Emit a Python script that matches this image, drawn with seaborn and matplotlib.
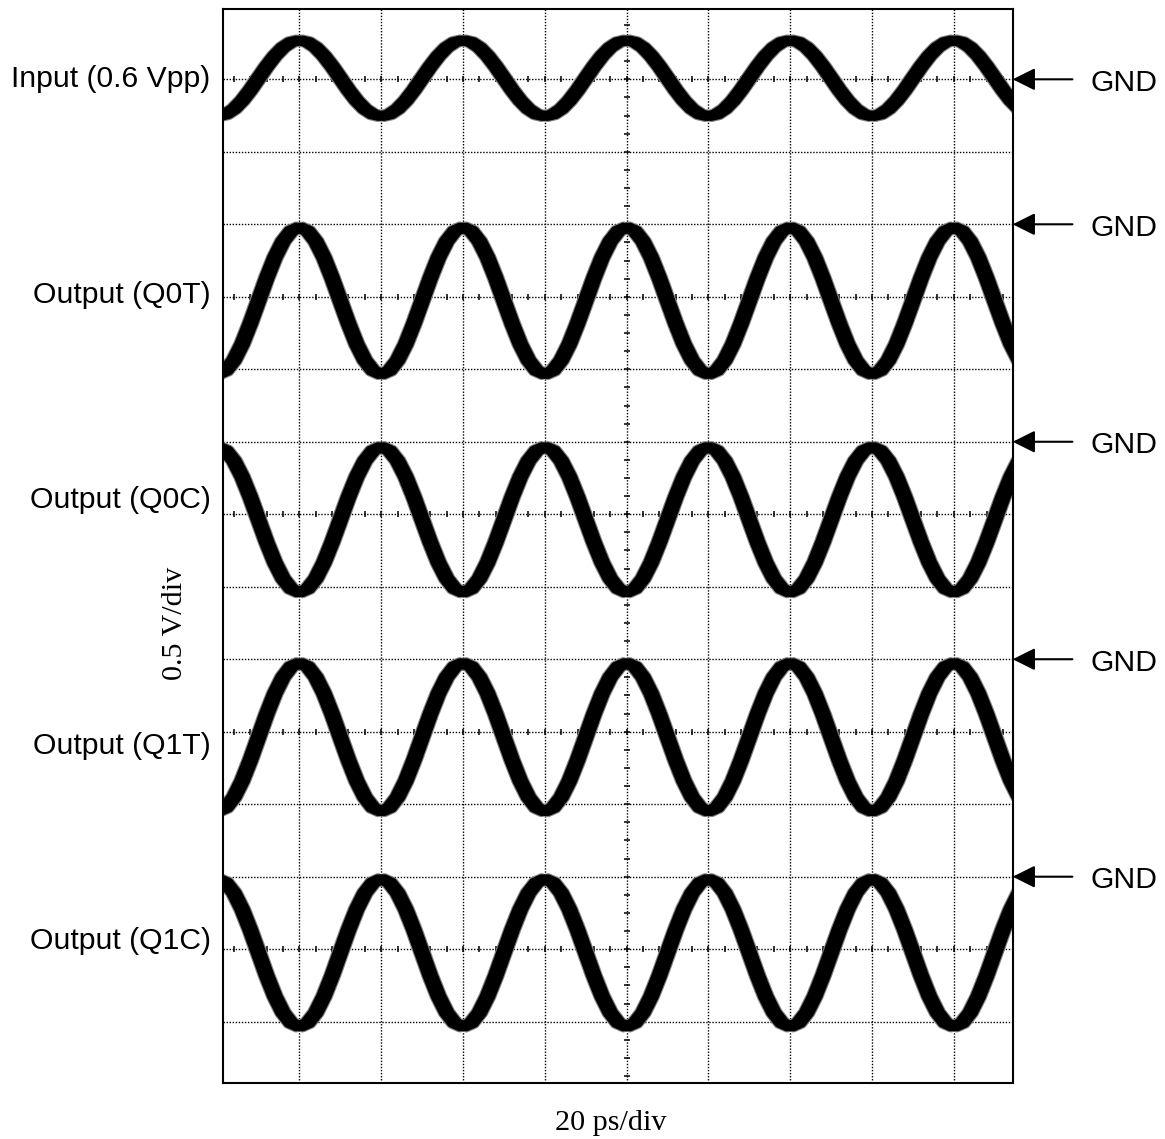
import numpy as np
import seaborn as sns
import matplotlib.pyplot as plt
import matplotlib.patheffects as pe
import matplotlib.transforms as mtransforms

plt.switch_backend('agg')

# sample times (20 ps/div), one reading every 2 ps
time_ps = [-100, -98, -96, -94, -92, -90, -88, -86, -84, -82,
           -80, -78, -76, -74, -72, -70, -68, -66, -64, -62,
           -60, -58, -56, -54, -52, -50, -48, -46, -44, -42,
           -40, -38, -36, -34, -32, -30, -28, -26, -24, -22,
           -20, -18, -16, -14, -12, -10, -8, -6, -4, -2,
           0, 2, 4, 6, 8, 10, 12, 14, 16, 18,
           20, 22, 24, 26, 28, 30, 32, 34, 36, 38,
           40, 42, 44, 46, 48, 50, 52, 54, 56, 58,
           60, 62, 64, 66, 68, 70, 72, 74, 76, 78,
           80, 82, 84, 86, 88, 90, 92, 94, 96, 98]

# trace levels in volts, relative to each trace's GND marker
input_v = [-0.255, -0.242, -0.205, -0.147, -0.074, 0.008, 0.089, 0.162, 0.22, 0.257, 0.27, 0.257, 0.22, 0.162, 0.089, 0.008, -0.074, -0.147, -0.205, -0.242,
           -0.255, -0.242, -0.205, -0.147, -0.074, 0.008, 0.089, 0.162, 0.22, 0.257, 0.27, 0.257, 0.22, 0.162, 0.089, 0.008, -0.074, -0.147, -0.205, -0.242,
           -0.255, -0.242, -0.205, -0.147, -0.074, 0.008, 0.089, 0.162, 0.22, 0.257, 0.27, 0.257, 0.22, 0.162, 0.089, 0.008, -0.074, -0.147, -0.205, -0.242,
           -0.255, -0.242, -0.205, -0.147, -0.074, 0.008, 0.089, 0.162, 0.22, 0.257, 0.27, 0.257, 0.22, 0.162, 0.089, 0.008, -0.074, -0.147, -0.205, -0.242,
           -0.255, -0.242, -0.205, -0.147, -0.074, 0.008, 0.089, 0.162, 0.22, 0.257, 0.27, 0.257, 0.22, 0.162, 0.089, 0.008, -0.074, -0.147, -0.205, -0.242]
q0t_v = [-1.035, -1.01, -0.938, -0.826, -0.684, -0.528, -0.371, -0.229, -0.117, -0.045, -0.02, -0.045, -0.117, -0.229, -0.371, -0.528, -0.684, -0.826, -0.938, -1.01,
         -1.035, -1.01, -0.938, -0.826, -0.684, -0.528, -0.371, -0.229, -0.117, -0.045, -0.02, -0.045, -0.117, -0.229, -0.371, -0.528, -0.684, -0.826, -0.938, -1.01,
         -1.035, -1.01, -0.938, -0.826, -0.684, -0.528, -0.371, -0.229, -0.117, -0.045, -0.02, -0.045, -0.117, -0.229, -0.371, -0.528, -0.684, -0.826, -0.938, -1.01,
         -1.035, -1.01, -0.938, -0.826, -0.684, -0.528, -0.371, -0.229, -0.117, -0.045, -0.02, -0.045, -0.117, -0.229, -0.371, -0.528, -0.684, -0.826, -0.938, -1.01,
         -1.035, -1.01, -0.938, -0.826, -0.684, -0.528, -0.371, -0.229, -0.117, -0.045, -0.02, -0.045, -0.117, -0.229, -0.371, -0.528, -0.684, -0.826, -0.938, -1.01]
q0c_v = [-0.035, -0.06, -0.131, -0.242, -0.382, -0.538, -0.693, -0.833, -0.944, -1.015, -1.04, -1.015, -0.944, -0.833, -0.693, -0.538, -0.382, -0.242, -0.131, -0.06,
         -0.035, -0.06, -0.131, -0.242, -0.382, -0.538, -0.693, -0.833, -0.944, -1.015, -1.04, -1.015, -0.944, -0.833, -0.693, -0.538, -0.382, -0.242, -0.131, -0.06,
         -0.035, -0.06, -0.131, -0.242, -0.382, -0.538, -0.693, -0.833, -0.944, -1.015, -1.04, -1.015, -0.944, -0.833, -0.693, -0.538, -0.382, -0.242, -0.131, -0.06,
         -0.035, -0.06, -0.131, -0.242, -0.382, -0.538, -0.693, -0.833, -0.944, -1.015, -1.04, -1.015, -0.944, -0.833, -0.693, -0.538, -0.382, -0.242, -0.131, -0.06,
         -0.035, -0.06, -0.131, -0.242, -0.382, -0.538, -0.693, -0.833, -0.944, -1.015, -1.04, -1.015, -0.944, -0.833, -0.693, -0.538, -0.382, -0.242, -0.131, -0.06]
q1t_v = [-1.05, -1.025, -0.952, -0.839, -0.696, -0.538, -0.379, -0.236, -0.123, -0.05, -0.025, -0.05, -0.123, -0.236, -0.379, -0.538, -0.696, -0.839, -0.952, -1.025,
         -1.05, -1.025, -0.952, -0.839, -0.696, -0.538, -0.379, -0.236, -0.123, -0.05, -0.025, -0.05, -0.123, -0.236, -0.379, -0.538, -0.696, -0.839, -0.952, -1.025,
         -1.05, -1.025, -0.952, -0.839, -0.696, -0.538, -0.379, -0.236, -0.123, -0.05, -0.025, -0.05, -0.123, -0.236, -0.379, -0.538, -0.696, -0.839, -0.952, -1.025,
         -1.05, -1.025, -0.952, -0.839, -0.696, -0.538, -0.379, -0.236, -0.123, -0.05, -0.025, -0.05, -0.123, -0.236, -0.379, -0.538, -0.696, -0.839, -0.952, -1.025,
         -1.05, -1.025, -0.952, -0.839, -0.696, -0.538, -0.379, -0.236, -0.123, -0.05, -0.025, -0.05, -0.123, -0.236, -0.379, -0.538, -0.696, -0.839, -0.952, -1.025]
q1c_v = [-0.015, -0.04, -0.112, -0.225, -0.367, -0.525, -0.683, -0.825, -0.938, -1.01, -1.035, -1.01, -0.938, -0.825, -0.683, -0.525, -0.367, -0.225, -0.112, -0.04,
         -0.015, -0.04, -0.112, -0.225, -0.367, -0.525, -0.683, -0.825, -0.938, -1.01, -1.035, -1.01, -0.938, -0.825, -0.683, -0.525, -0.367, -0.225, -0.112, -0.04,
         -0.015, -0.04, -0.112, -0.225, -0.367, -0.525, -0.683, -0.825, -0.938, -1.01, -1.035, -1.01, -0.938, -0.825, -0.683, -0.525, -0.367, -0.225, -0.112, -0.04,
         -0.015, -0.04, -0.112, -0.225, -0.367, -0.525, -0.683, -0.825, -0.938, -1.01, -1.035, -1.01, -0.938, -0.825, -0.683, -0.525, -0.367, -0.225, -0.112, -0.04,
         -0.015, -0.04, -0.112, -0.225, -0.367, -0.525, -0.683, -0.825, -0.938, -1.01, -1.035, -1.01, -0.938, -0.825, -0.683, -0.525, -0.367, -0.225, -0.112, -0.04]

trace_labels = ["Input (0.6 Vpp)", "Output (Q0T)", "Output (Q0C)",
                "Output (Q1T)", "Output (Q1C)"]
traces = [input_v, q0t_v, q0c_v, q1t_v, q1c_v]

# screen layout: GND marker of each trace, in divisions from the top edge
gnd_div = [-1, -3, -6, -9, -12]
volts_per_div = 0.5
ps_per_div = 20

sns.set_style("white")
plt.rcParams['font.family'] = ['Liberation Sans', 'DejaVu Sans']
plt.rcParams['text.color'] = 'black'
SERIF = ['Liberation Serif', 'DejaVu Serif']
FS = 21.7

fig = plt.figure(figsize=(11.65, 11.39), dpi=100)
ax = fig.add_axes([0.19099, 0.0489, 0.67828, 0.9432])

# graticule
ax.set_xlim(-98.8, 94.4)
ax.set_ylim(-14.85, -0.03)
ax.set_xticks(np.arange(-4, 5) * ps_per_div)
ax.set_yticks(np.arange(-14, 0))
ax.tick_params(length=0, labelbottom=False, labelleft=False)
ax.grid(True, color='black', linestyle=(0, (1, 1.2)), linewidth=1.0)
ax.set_axisbelow(True)
for spine in ax.spines.values():
    spine.set_visible(True)
    spine.set_color('black')
    spine.set_linewidth(1.5)

minor_x = np.arange(-96, 96, 4)
for y in [-1, -4, -7, -10, -13]:
    ax.plot(minor_x, np.full(len(minor_x), y), ls='none', marker='|', ms=5, mew=1.1, color='black', zorder=1)
minor_y = np.arange(-14.75, 0, 0.25)
ax.plot(np.zeros(len(minor_y)), minor_y, ls='none', marker='_', ms=5, mew=1.1, color='black', zorder=1)

# noisy traces: grey fringe, black core, horizontally shifted copies for the jitter
trace_fx = [pe.Stroke(linewidth=8.2, foreground='0.5', offset=(-2.3, 0)),
            pe.Stroke(linewidth=8.2, foreground='0.5', offset=(2.3, 0)),
            pe.Stroke(linewidth=6.6, foreground='black', offset=(-2.3, 0)),
            pe.Stroke(linewidth=6.6, foreground='black', offset=(2.3, 0)),
            pe.Normal()]
for volts, gnd in zip(traces, gnd_div):
    y = [gnd + v / volts_per_div for v in volts]
    sns.lineplot(x=time_ps, y=y, ax=ax, color='black', linewidth=6.6, estimator=None,
                 sort=False, legend=False, solid_joinstyle='round', solid_capstyle='round')
    ax.lines[-1].set_path_effects(trace_fx)

# GND markers on the right
blend = mtransforms.blended_transform_factory(ax.transAxes, ax.transData)
for gnd in gnd_div:
    ax.annotate('', xy=(1, gnd), xycoords=blend, xytext=(43, 0), textcoords='offset points',
                arrowprops=dict(arrowstyle='-|>', mutation_scale=34, lw=1.5, color='black',
                                shrinkA=0, shrinkB=0))
    ax.annotate('GND', xy=(1, gnd), xycoords=blend, xytext=(55.7, -8.2), textcoords='offset points',
                ha='left', va='baseline', fontsize=FS)

# trace names on the left
label_baselines = [0.9239, 0.7340, 0.5540, 0.3380, 0.1665]
for label, yb in zip(trace_labels, label_baselines):
    fig.text(0.1807, yb, label, ha='right', va='baseline', fontsize=FS)

fig.text(0.156, 0.4524, '0.5 V/div', rotation=90, rotation_mode='anchor', ha='center',
         va='baseline', family=SERIF, fontsize=FS)
fig.text(0.5245, 0.0079, '20 ps/div', ha='center', va='baseline', family=SERIF, fontsize=FS)

fig.savefig('out.png', dpi=100)
